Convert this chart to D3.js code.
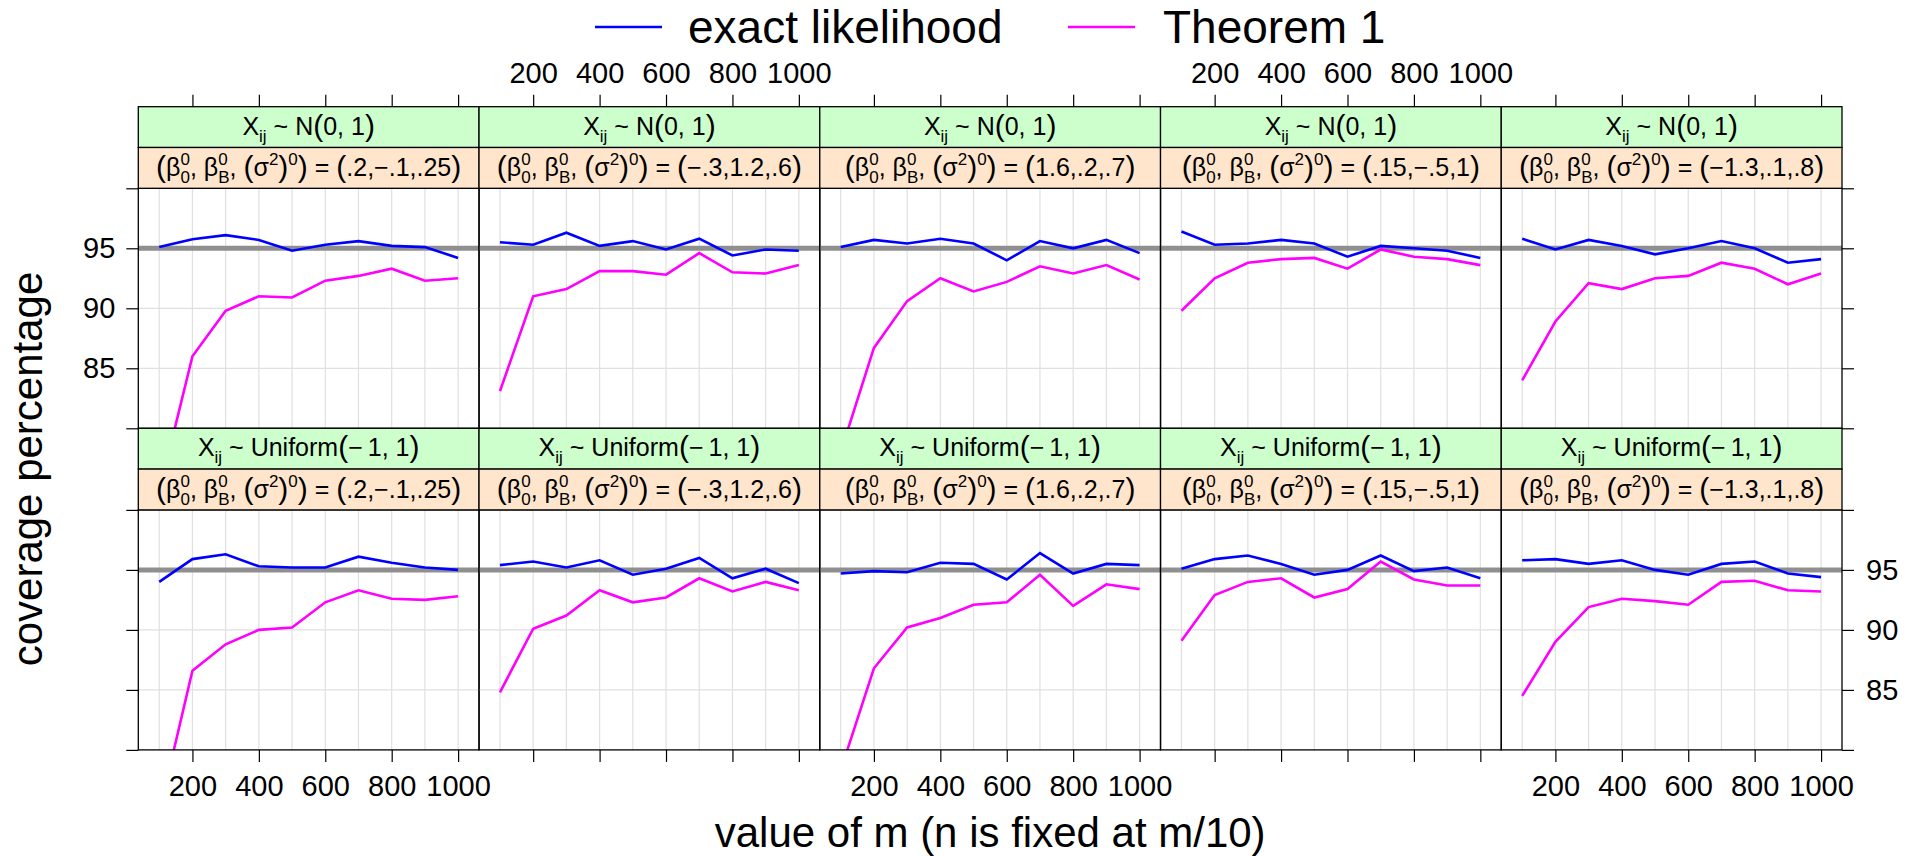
<!DOCTYPE html>
<html>
<head>
<meta charset="utf-8">
<script src="https://cdn.jsdelivr.net/npm/d3@7"></script>
<style>
  body { margin: 0; background: #fff; }
  svg { font-family: "Liberation Sans", Arial, Helvetica, sans-serif; }
  .axis path { display: none; }
  .axis line { stroke: #000; stroke-width: 1.2; }
  .axis text { font-size: 29px; fill: #000; }
</style>
</head>
<body>
<svg id="chart"></svg>
<script>
const width = 1918;
const height = 856;

// values of m on the x axis
const mValues = [100, 200, 300, 400, 500, 600, 700, 800, 900, 1000];
const xTicks = [200, 400, 600, 800, 1000];
const yTicks = [80, 85, 90, 95, 100];
const yLabelled = [85, 90, 95];

const distributions = ['N', 'Uniform'];
const distArgs = ['0, 1', '\u2212\u20091, 1'];
const paramValues = ['.2,\u2212.1,.25', '\u2212.3,1.2,.6', '1.6,.2,.7', '.15,\u2212.5,1', '\u22121.3,.1,.8'];

const seriesNames = ['exact likelihood', 'Theorem 1'];
const seriesColors = ['#0000FF', '#FF00FF'];

// X ~ N(0,1): one row per parameter setting
const exactNormal = [
  [95.1, 95.75, 96.1, 95.7, 94.8, 95.3, 95.6, 95.2, 95.1, 94.2],
  [95.5, 95.3, 96.3, 95.2, 95.6, 94.9, 95.8, 94.4, 94.9, 94.8],
  [95.1, 95.7, 95.4, 95.8, 95.4, 94.0, 95.6, 95.0, 95.7, 94.6],
  [96.4, 95.3, 95.4, 95.7, 95.4, 94.3, 95.2, 95.0, 94.8, 94.2],
  [95.8, 94.9, 95.7, 95.2, 94.5, 95.0, 95.6, 95.0, 93.8, 94.1]
];
const theoremNormal = [
  [74.7, 86.0, 89.8, 91.0, 90.9, 92.3, 92.7, 93.3, 92.3, 92.5],
  [83.1, 91.0, 91.6, 93.1, 93.1, 92.8, 94.6, 93.0, 92.9, 93.6],
  [78.0, 86.7, 90.6, 92.5, 91.4, 92.2, 93.5, 92.9, 93.6, 92.4],
  [89.8, 92.5, 93.8, 94.1, 94.2, 93.3, 94.9, 94.3, 94.1, 93.6],
  [84.0, 88.9, 92.1, 91.6, 92.5, 92.7, 93.8, 93.3, 92.0, 92.9]
];
// X ~ Uniform(-1,1)
const exactUniform = [
  [94.0, 95.9, 96.3, 95.3, 95.2, 95.2, 96.1, 95.6, 95.2, 95.0],
  [95.4, 95.7, 95.2, 95.8, 94.6, 95.1, 96.0, 94.3, 95.1, 93.9],
  [94.7, 94.9, 94.8, 95.6, 95.5, 94.2, 96.4, 94.7, 95.5, 95.4],
  [95.1, 95.9, 96.2, 95.5, 94.6, 95.0, 96.2, 94.9, 95.2, 94.3],
  [95.8, 95.9, 95.5, 95.8, 95.0, 94.6, 95.5, 95.7, 94.7, 94.4]
];
const theoremUniform = [
  [74.8, 86.6, 88.8, 90.0, 90.2, 92.3, 93.3, 92.6, 92.5, 92.8],
  [84.8, 90.1, 91.2, 93.3, 92.3, 92.7, 94.3, 93.2, 94.0, 93.3],
  [78.3, 86.8, 90.2, 91.0, 92.1, 92.3, 94.6, 92.0, 93.8, 93.4],
  [89.1, 92.9, 94.0, 94.3, 92.7, 93.4, 95.7, 94.2, 93.7, 93.7],
  [84.5, 89.0, 91.9, 92.6, 92.4, 92.1, 94.0, 94.1, 93.3, 93.2]
];
const refLevel = 95;

const rows = [[exactNormal, theoremNormal], [exactUniform, theoremUniform]];

const gridLeft = 138.3;
const gridRight = 1842;
const panelW = (gridRight - gridLeft) / 5;
const gridTop = 106.7;
const stripH = 40.8;
const plotH = 240;
const rowH = 2 * stripH + plotH;

const svg = d3.select('#chart').attr('width', width).attr('height', height);

// lays out a row of text pieces (with sub/superscripts) centred at cx
function mathText(g, tokens, cx, baseY) {
  const items = [];
  let cursor = 0;
  let prevStart = 0, prevW = 0;
  tokens.forEach(tk => {
    const t = g.append('text')
      .attr('font-size', tk.size || 25)
      .style('white-space', 'pre')
      .text(tk.t);
    const w = t.node().getComputedTextLength();
    let xPos;
    if (tk.stack) {
      xPos = prevStart;
      const adv = Math.max(prevW, w);
      cursor = prevStart + adv;
      prevW = adv;
    } else {
      xPos = cursor;
      prevStart = cursor;
      prevW = w;
      cursor += w;
    }
    items.push({node: t, x: xPos, dy: tk.dy || 0});
  });
  const start = cx - cursor / 2;
  items.forEach(it => it.node.attr('x', start + it.x).attr('y', baseY + it.dy));
}

const P = s => ({t: s, size: 30, dy: 1});
const sup = s => ({t: s, size: 17, dy: -11});
const sub = s => ({t: s, size: 17, dy: 7});
const stackSub = s => Object.assign(sub(s), {stack: true});

rows.forEach((row, r) => {
  const rowTop = gridTop + r * rowH;
  const plotTop = rowTop + 2 * stripH;
  const plotBottom = plotTop + plotH;

  const y = d3.scaleLinear().domain([80, 100]).range([plotBottom, plotTop]);

  for (let p = 0; p < 5; p++) {
    const x0 = gridLeft + p * panelW;
    const x = d3.scaleLinear().domain([37, 1063]).range([x0, x0 + panelW]);
    const g = svg.append('g');

    const clipId = `clip-${r}-${p}`;
    svg.append('clipPath').attr('id', clipId)
      .append('rect').attr('x', x0).attr('y', plotTop).attr('width', panelW).attr('height', plotH);

    // grid
    g.selectAll('.vgrid').data(mValues).enter().append('line')
      .attr('x1', d => x(d)).attr('x2', d => x(d))
      .attr('y1', plotTop).attr('y2', plotBottom)
      .attr('stroke', '#E0E0E0').attr('stroke-width', 1.2);
    g.selectAll('.hgrid').data(yLabelled).enter().append('line')
      .attr('x1', x0).attr('x2', x0 + panelW)
      .attr('y1', d => y(d)).attr('y2', d => y(d))
      .attr('stroke', '#E0E0E0').attr('stroke-width', 1.2);

    // reference line at 95
    g.append('line')
      .attr('x1', x0).attr('x2', x0 + panelW)
      .attr('y1', y(refLevel)).attr('y2', y(refLevel))
      .attr('stroke', '#8F8F8F').attr('stroke-width', 5);

    const line = d3.line().x((d, i) => x(mValues[i])).y(d => y(d));
    row.forEach((series, s) => {
      g.append('path')
        .attr('d', line(series[p]))
        .attr('fill', 'none')
        .attr('stroke', seriesColors[s])
        .attr('stroke-width', 2.6)
        .attr('clip-path', `url(#${clipId})`);
    });

    // panel border
    g.append('rect')
      .attr('x', x0).attr('y', plotTop).attr('width', panelW).attr('height', plotH)
      .attr('fill', 'none').attr('stroke', '#000').attr('stroke-width', 1.3);

    // strips
    [['#CCFFCC', rowTop], ['#FFE5CC', rowTop + stripH]].forEach(([fill, sy]) => {
      g.append('rect')
        .attr('x', x0).attr('y', sy).attr('width', panelW).attr('height', stripH)
        .attr('fill', fill).attr('stroke', '#000').attr('stroke-width', 1.3);
    });
    const cx = x0 + panelW / 2;
    mathText(g.append('g'), [
      {t: 'X'}, sub('ij'), {t: ' ~ '}, {t: distributions[r]},
      P('('), {t: distArgs[r]}, P(')')
    ], cx, rowTop + stripH / 2 + 7.5);
    mathText(g.append('g'), [
      P('('), {t: '\u03B2'}, sup('0'), stackSub('0'),
      {t: ', \u03B2'}, sup('0'), stackSub('B'),
      {t: ', '}, P('('), {t: '\u03C3'}, sup('2'), P(')'), sup('0'), P(')'),
      {t: ' = '}, P('('), {t: paramValues[p]}, P(')')
    ], cx, rowTop + stripH * 1.5 + 8);

    // axes: ticks on outer sides, labels alternate
    const fmt = d3.format('d');
    if (r === 1) {
      const ax = d3.axisBottom(x).tickValues(xTicks).tickSize(12).tickPadding(14)
        .tickFormat(d => p % 2 === 1 ? '' : fmt(d));
      svg.append('g').attr('class', 'axis')
        .attr('transform', `translate(0,${plotBottom})`).call(ax);
    }
    if (r === 0) {
      const ax = d3.axisTop(x).tickValues(xTicks).tickSize(12).tickPadding(12)
        .tickFormat(d => p % 2 === 0 ? '' : fmt(d));
      svg.append('g').attr('class', 'axis')
        .attr('transform', `translate(0,${rowTop})`).call(ax);
    }
    if (p === 0) {
      const ax = d3.axisLeft(y).tickValues(yTicks).tickSize(12).tickPadding(11)
        .tickFormat(d => (r === 0 && yLabelled.includes(d)) ? d : '');
      svg.append('g').attr('class', 'axis')
        .attr('transform', `translate(${x0},0)`).call(ax);
    }
    if (p === 4) {
      const ax = d3.axisRight(y).tickValues(yTicks).tickSize(12).tickPadding(12)
        .tickFormat(d => (r === 1 && yLabelled.includes(d)) ? d : '');
      svg.append('g').attr('class', 'axis')
        .attr('transform', `translate(${x0 + panelW},0)`).call(ax);
    }
  }
});

// legend
const legendPos = [{x: 595, tx: 688}, {x: 1068, tx: 1163}];
legendPos.forEach((d, i) => {
  svg.append('line')
    .attr('x1', d.x).attr('x2', d.x + 67)
    .attr('y1', 27).attr('y2', 27)
    .attr('stroke', seriesColors[i]).attr('stroke-width', 2.6);
  svg.append('text')
    .attr('x', d.tx).attr('y', 43)
    .attr('font-size', 46)
    .text(seriesNames[i]);
});

// axis titles
svg.append('text')
  .attr('x', (gridLeft + gridRight) / 2).attr('y', 847)
  .attr('text-anchor', 'middle').attr('font-size', 42)
  .text('value of m (n is fixed at m/10)');

svg.append('text')
  .attr('transform', 'translate(42,469) rotate(-90)')
  .attr('text-anchor', 'middle').attr('font-size', 42)
  .text('coverage percentage');
</script>
</body>
</html>
